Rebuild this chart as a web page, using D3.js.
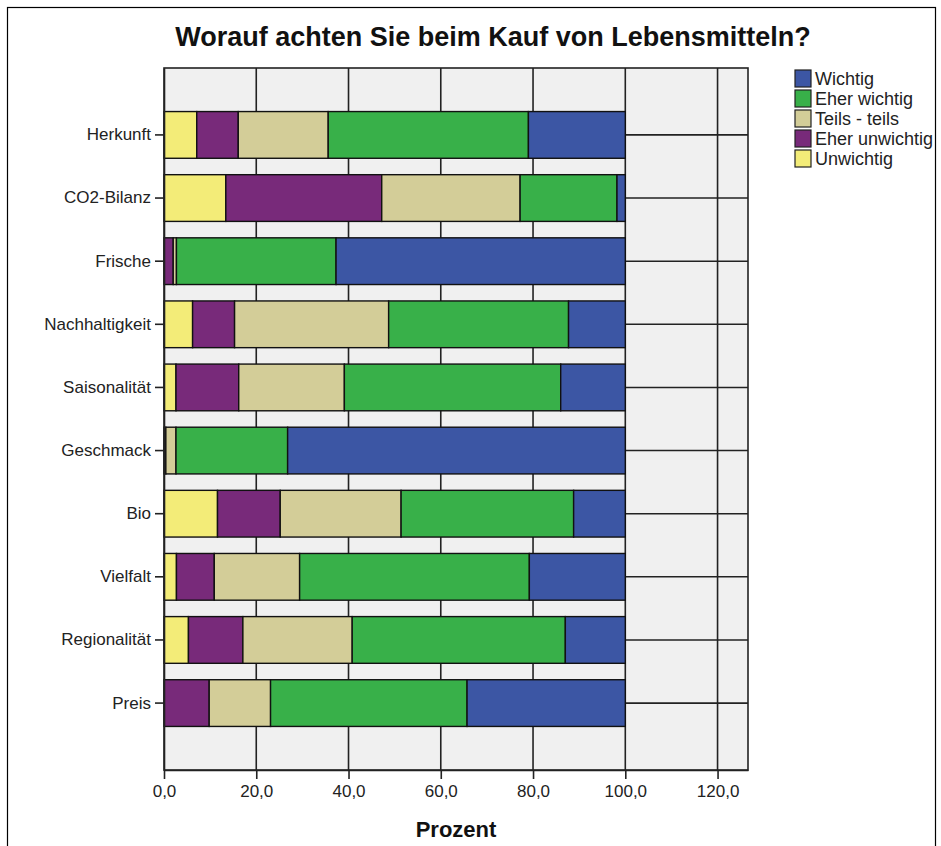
<!DOCTYPE html>
<html>
<head>
<meta charset="utf-8">
<script src="https://cdn.jsdelivr.net/npm/d3@7"></script>
<style>
  html, body { margin: 0; padding: 0; background: #fff; }
  svg { display: block; font-family: "Liberation Sans", Arial, sans-serif; }
</style>
</head>
<body>
<svg id="chart" width="941" height="846"></svg>
<script>
// Survey answers per purchase criterion, percent of respondents
const categories = ["Herkunft", "CO2-Bilanz", "Frische", "Nachhaltigkeit", "Saisonalität",
                    "Geschmack", "Bio", "Vielfalt", "Regionalität", "Preis"];
const unwichtig      = [7.1, 13.4, 0.0, 6.2, 2.6, 0.0, 11.6, 2.7, 5.3, 0.0];
const eherUnwichtig  = [9.0, 33.8, 2.0, 9.1, 13.6, 0.4, 13.6, 8.2, 11.8, 9.8];
const teilsTeils     = [19.5, 30.0, 0.7, 33.4, 22.9, 2.2, 26.2, 18.5, 23.7, 13.3];
const eherWichtig    = [43.4, 21.0, 34.6, 39.0, 46.9, 24.2, 37.4, 49.8, 46.2, 42.6];
const wichtig        = [21.0, 1.8, 62.7, 12.3, 14.0, 73.2, 11.2, 20.8, 13.0, 34.3];

// stacking order (left to right) and legend order (top to bottom)
const seriesNames  = ["Unwichtig", "Eher unwichtig", "Teils - teils", "Eher wichtig", "Wichtig"];
const seriesValues = [unwichtig, eherUnwichtig, teilsTeils, eherWichtig, wichtig];
const seriesColors = ["#f3ec78", "#782a7a", "#d3cd98", "#38b049", "#3c56a4"];
const legendOrder  = ["Wichtig", "Eher wichtig", "Teils - teils", "Eher unwichtig", "Unwichtig"];

const xTicks = [0, 20, 40, 60, 80, 100, 120];
const xMax = 126.6;

const title = "Worauf achten Sie beim Kauf von Lebensmitteln?";
const xTitle = "Prozent";

const svg = d3.select("#chart");
const plot = { left: 164, right: 748, top: 68, bottom: 770 };

const de = d3.formatLocale({ decimal: ",", thousands: ".", grouping: [3], currency: ["", " €"] });
const fmt = de.format(".1f");

// outer frame
svg.append("rect").attr("x", 7.5).attr("y", 7.5).attr("width", 928).attr("height", 850)
  .attr("fill", "#fff").attr("stroke", "#000").attr("stroke-width", 1.2);

const x = d3.scaleLinear().domain([0, xMax]).range([plot.left, plot.right]);
const y = d3.scaleBand().domain(categories).range([plot.top, plot.bottom])
  .paddingInner(0.26).paddingOuter(0.69);

// plot background
svg.append("rect").attr("x", plot.left).attr("y", plot.top)
  .attr("width", plot.right - plot.left).attr("height", plot.bottom - plot.top)
  .attr("fill", "#f0f0f0");

// vertical grid lines
svg.append("g").selectAll("line").data(xTicks.filter(d => d > 0)).join("line")
  .attr("x1", d => x(d)).attr("x2", d => x(d))
  .attr("y1", plot.top).attr("y2", plot.bottom)
  .attr("stroke", "#222").attr("stroke-width", 1.6);

// horizontal grid lines at category centres
svg.append("g").selectAll("line").data(categories).join("line")
  .attr("x1", plot.left).attr("x2", plot.right)
  .attr("y1", d => y(d) + y.bandwidth() / 2).attr("y2", d => y(d) + y.bandwidth() / 2)
  .attr("stroke", "#222").attr("stroke-width", 1.6);

// stacked bars
const rows = categories.map((c, i) => {
  const r = { cat: c };
  seriesNames.forEach((s, k) => r[s] = seriesValues[k][i]);
  return r;
});
const stacked = d3.stack().keys(seriesNames)(rows);
const color = d3.scaleOrdinal().domain(seriesNames).range(seriesColors);

svg.append("g").selectAll("g").data(stacked).join("g")
  .attr("fill", d => color(d.key))
  .selectAll("rect").data(d => d.filter(p => p[1] - p[0] > 0)).join("rect")
  .attr("x", d => x(d[0]))
  .attr("width", d => x(d[1]) - x(d[0]))
  .attr("y", d => y(d.data.cat))
  .attr("height", y.bandwidth())
  .attr("stroke", "#111").attr("stroke-width", 1.4);

// plot frame
svg.append("rect").attr("x", plot.left).attr("y", plot.top)
  .attr("width", plot.right - plot.left).attr("height", plot.bottom - plot.top)
  .attr("fill", "none").attr("stroke", "#222").attr("stroke-width", 1.6);

// x axis
const xAxis = svg.append("g").attr("transform", `translate(0,${plot.bottom})`)
  .call(d3.axisBottom(x).tickValues(xTicks).tickFormat(fmt).tickSize(9).tickSizeOuter(0).tickPadding(6));
xAxis.select(".domain").attr("stroke", "#222").attr("stroke-width", 1.6);
xAxis.selectAll(".tick line").attr("stroke", "#222").attr("stroke-width", 1.6);
xAxis.selectAll("text").attr("font-size", 17).attr("fill", "#222")
  .attr("font-family", "Liberation Sans, Arial, sans-serif");

// y axis
const yAxis = svg.append("g").attr("transform", `translate(${plot.left},0)`)
  .call(d3.axisLeft(y).tickSize(9).tickSizeOuter(0).tickPadding(4));
yAxis.select(".domain").attr("stroke", "#222").attr("stroke-width", 1.6);
yAxis.selectAll(".tick line").attr("stroke", "#222").attr("stroke-width", 1.6);
yAxis.selectAll("text").attr("font-size", 17).attr("fill", "#222")
  .attr("font-family", "Liberation Sans, Arial, sans-serif");

// titles
svg.append("text").attr("x", 493).attr("y", 46).attr("text-anchor", "middle")
  .attr("font-size", 27).attr("font-weight", "bold").attr("fill", "#111").text(title);
svg.append("text").attr("x", (plot.left + plot.right) / 2).attr("y", 837).attr("text-anchor", "middle")
  .attr("font-size", 22).attr("font-weight", "bold").attr("fill", "#111").text(xTitle);

// legend
const legend = svg.append("g").attr("transform", "translate(795,70)");
const items = legend.selectAll("g").data(legendOrder).join("g")
  .attr("transform", (d, i) => `translate(0,${i * 20})`);
items.append("rect").attr("width", 16).attr("height", 17)
  .attr("fill", d => color(d)).attr("stroke", "#222").attr("stroke-width", 1.2);
items.append("text").attr("x", 20).attr("y", 15).attr("font-size", 18).attr("fill", "#222")
  .text(d => d);
</script>
</body>
</html>
